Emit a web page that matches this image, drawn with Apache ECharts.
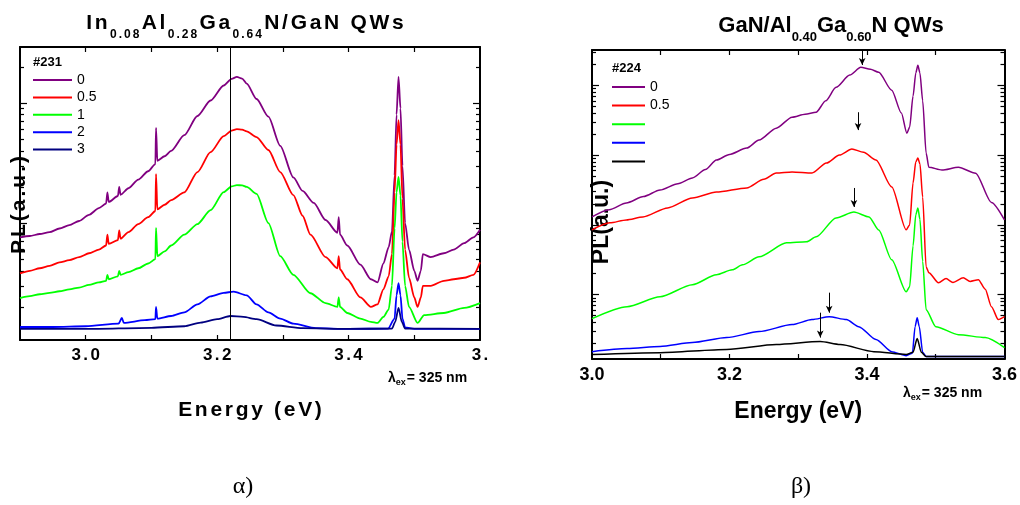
<!DOCTYPE html>
<html>
<head>
<meta charset="utf-8">
<script src="https://cdn.jsdelivr.net/npm/echarts@6/dist/echarts.min.js"></script>
<style>
  html, body { margin: 0; padding: 0; background: #fff; }
  #chart { width: 1020px; height: 505px; }
</style>
</head>
<body>
<div id="chart"></div>
<script>
// ---------- panel α : In0.08Al0.28Ga0.64N/GaN QWs, sample #231 ----------
const alphaRange = [2.9, 3.6];
const alphaYRange = [0.106, 29.3];
const alphaXTicks = [3.0, 3.1, 3.2, 3.3, 3.4, 3.5];
const alphaXLabelAt = [3.0, 3.2, 3.4, 3.6];
const alphaXLabels = ['3.0', '3.2', '3.4', '3.'];
const alphaYMajor = [1, 10];
const alphaYMinor = [0.2, 0.3, 0.4, 0.5, 0.6, 0.7, 0.8, 0.9, 2, 3, 4, 5, 6, 7, 8, 9, 20];
const alphaNames = ['0', '0.5', '1', '2', '3'];
const alphaColors = ['#800080', '#ff0000', '#00ff00', '#0000ff', '#000080'];
const alphaMarkE = 3.22;

const alphaS0 = [
  [2.900, 0.76], [2.915, 0.78], [2.930, 0.81], [2.945, 0.84], [2.960, 0.90], [2.975, 0.96],
  [2.990, 1.04], [3.005, 1.17], [3.020, 1.33],
  [3.031, 1.45], [3.033, 1.80], [3.035, 1.50], [3.049, 1.68], [3.051, 2.00], [3.053, 1.72],
  [3.065, 1.95], [3.080, 2.30], [3.095, 2.70], [3.106, 3.10], [3.107, 6.20], [3.109, 3.30],
  [3.120, 3.60], [3.130, 4.00], [3.150, 5.40],
  [3.170, 7.80], [3.190, 10.5], [3.210, 14.0], [3.222, 15.9], [3.230, 16.5], [3.238, 16.0],
  [3.245, 14.5], [3.260, 10.8],
  [3.278, 7.7], [3.296, 4.4], [3.316, 2.4], [3.330, 1.85], [3.347, 1.47], [3.365, 1.06], [3.383, 0.83],
  [3.385, 1.12], [3.387, 0.80], [3.398, 0.65], [3.418, 0.45], [3.434, 0.34], [3.444, 0.32],
  [3.453, 0.46], [3.461, 0.63], [3.466, 0.85], [3.470, 2.5], [3.473, 8.0], [3.476, 16.5],
  [3.479, 9.0], [3.482, 3.0], [3.486, 1.0], [3.492, 0.60], [3.500, 0.40], [3.505, 0.33],
  [3.510, 0.40], [3.513, 0.55], [3.525, 0.52], [3.545, 0.56], [3.560, 0.60], [3.576, 0.68],
  [3.590, 0.76], [3.600, 0.88]
];
const alphaS05 = [
  [2.900, 0.38], [2.915, 0.40], [2.930, 0.42], [2.945, 0.44], [2.960, 0.47], [2.975, 0.49],
  [2.990, 0.52], [3.005, 0.56], [3.020, 0.60],
  [3.031, 0.65], [3.033, 0.80], [3.035, 0.67], [3.049, 0.72], [3.051, 0.87], [3.053, 0.74],
  [3.065, 0.84], [3.080, 0.98], [3.095, 1.12], [3.106, 1.26], [3.107, 2.56], [3.109, 1.30],
  [3.120, 1.42], [3.130, 1.55], [3.150, 1.80],
  [3.170, 2.66], [3.190, 3.90], [3.210, 5.30], [3.222, 5.90], [3.230, 6.05], [3.238, 6.00],
  [3.245, 5.80], [3.260, 5.20],
  [3.278, 4.06], [3.296, 2.66], [3.316, 1.71], [3.330, 1.15], [3.342, 0.80], [3.365, 0.52], [3.383, 0.42],
  [3.385, 0.53], [3.387, 0.41], [3.398, 0.34], [3.418, 0.24], [3.434, 0.20], [3.444, 0.21],
  [3.453, 0.28], [3.461, 0.36], [3.466, 0.55], [3.470, 1.8], [3.473, 4.5], [3.476, 7.2],
  [3.479, 4.5], [3.482, 1.6], [3.486, 0.60], [3.492, 0.35], [3.500, 0.24], [3.505, 0.20],
  [3.510, 0.24], [3.513, 0.30], [3.525, 0.30], [3.545, 0.33], [3.560, 0.34], [3.576, 0.35],
  [3.590, 0.37], [3.600, 0.47]
];
const alphaS1 = [
  [2.900, 0.237], [2.915, 0.246], [2.930, 0.255], [2.945, 0.262], [2.960, 0.27], [2.975, 0.28],
  [2.990, 0.29], [3.005, 0.305], [3.020, 0.32],
  [3.031, 0.33], [3.033, 0.37], [3.035, 0.34], [3.049, 0.36], [3.051, 0.40], [3.053, 0.37],
  [3.065, 0.39], [3.080, 0.42], [3.095, 0.46], [3.106, 0.50], [3.107, 0.91], [3.109, 0.53],
  [3.120, 0.58], [3.130, 0.65], [3.150, 0.80],
  [3.170, 0.98], [3.190, 1.28], [3.210, 1.81], [3.222, 2.02], [3.230, 2.07], [3.238, 2.06],
  [3.245, 2.00], [3.260, 1.75],
  [3.278, 1.00], [3.296, 0.53], [3.316, 0.37], [3.342, 0.26], [3.365, 0.215], [3.383, 0.20],
  [3.385, 0.24], [3.387, 0.20], [3.398, 0.178], [3.418, 0.16], [3.434, 0.15], [3.444, 0.147],
  [3.453, 0.165], [3.461, 0.19], [3.466, 0.30], [3.470, 0.9], [3.473, 1.8], [3.476, 2.42],
  [3.479, 1.7], [3.482, 0.7], [3.486, 0.30], [3.492, 0.20], [3.505, 0.147], [3.515, 0.171],
  [3.545, 0.178], [3.576, 0.196], [3.600, 0.215]
];
const alphaS2 = [
  [2.900, 0.136], [2.950, 0.136], [3.000, 0.138], [3.050, 0.145], [3.055, 0.162], [3.058, 0.147],
  [3.090, 0.155], [3.106, 0.158], [3.107, 0.20], [3.109, 0.16], [3.130, 0.168], [3.150, 0.18],
  [3.170, 0.21], [3.190, 0.245], [3.210, 0.262], [3.225, 0.268], [3.245, 0.25], [3.260, 0.21],
  [3.278, 0.18], [3.296, 0.16], [3.316, 0.145], [3.350, 0.133], [3.400, 0.131], [3.460, 0.132],
  [3.470, 0.16], [3.473, 0.25], [3.476, 0.316], [3.479, 0.25], [3.482, 0.16], [3.486, 0.135],
  [3.500, 0.131], [3.600, 0.131]
];
const alphaS3 = [
  [2.900, 0.131], [3.000, 0.131], [3.100, 0.134], [3.150, 0.138], [3.175, 0.148], [3.200, 0.158],
  [3.220, 0.168], [3.240, 0.165], [3.260, 0.158], [3.290, 0.14], [3.330, 0.133], [3.400, 0.131],
  [3.466, 0.132], [3.471, 0.15], [3.476, 0.196], [3.481, 0.15], [3.486, 0.132], [3.600, 0.131]
];

// ---------- panel β : GaN/Al0.40Ga0.60N QWs, sample #224 ----------
const betaRange = [3.0, 3.6];
const betaYRange = [0.12, 3200];
const betaXTicks = [3.1, 3.2, 3.3, 3.4, 3.5];
const betaXLabelAt = [3.0, 3.2, 3.4, 3.6];
const betaXLabels = ['3.0', '3.2', '3.4', '3.6'];
const betaYMajor = [1, 10, 100, 1000];
const betaYMinor = [0.2, 0.3, 0.4, 0.5, 0.6, 0.7, 0.8, 0.9, 2, 3, 4, 5, 6, 7, 8, 9,
  20, 30, 40, 50, 60, 70, 80, 90, 200, 300, 400, 500, 600, 700, 800, 900, 2000, 3000];
const betaNames = ['β 0', 'β 0.5', 'β 1', 'β 2', 'β 3'];
const betaLegendText = ['0', '0.5', '\u00a0', '\u00a0', '\u00a0'];
const betaColors = ['#800080', '#ff0000', '#00ff00', '#0000ff', '#000000'];
// peak markers: [energy, from, to]
const betaArrows = [
  [3.393, 3150, 1950], [3.387, 411, 228], [3.381, 33.8, 18.1], [3.345, 1.07, 0.553], [3.332, 0.553, 0.243]
];

const betaS0 = [
  [3.000, 13.0], [3.025, 16.5], [3.050, 20.6], [3.075, 25.5], [3.099, 31.6], [3.125, 39],
  [3.146, 47], [3.165, 62], [3.181, 85], [3.200, 102], [3.225, 126], [3.243, 164], [3.268, 243],
  [3.291, 349], [3.310, 385], [3.326, 411], [3.340, 600], [3.355, 936], [3.375, 1400],
  [3.391, 1807], [3.405, 1700], [3.417, 1534], [3.436, 849], [3.450, 400], [3.458, 206],
  [3.462, 250], [3.467, 700], [3.471, 1500], [3.474, 1930], [3.477, 1500], [3.481, 600],
  [3.486, 107], [3.490, 67], [3.509, 61], [3.533, 67], [3.558, 55], [3.581, 21], [3.600, 11.8]
];
const betaS05 = [
  [3.000, 8.5], [3.026, 10.7], [3.050, 11.8], [3.074, 13.0], [3.110, 17.5], [3.146, 24.3],
  [3.181, 29.6], [3.225, 33.8], [3.250, 45], [3.268, 55.3], [3.291, 57.2], [3.320, 55.3],
  [3.341, 76.8], [3.360, 100], [3.378, 122], [3.395, 110], [3.413, 84.8], [3.436, 34.9],
  [3.457, 8.5], [3.462, 10], [3.467, 40], [3.471, 80], [3.474, 90.6], [3.477, 75], [3.481, 25],
  [3.486, 2.5], [3.490, 2.06], [3.504, 1.48], [3.515, 1.70], [3.525, 1.50], [3.540, 1.75],
  [3.550, 1.55], [3.562, 1.64], [3.572, 1.20], [3.581, 0.674], [3.591, 0.44], [3.600, 0.485]
];
const betaS1 = [
  [3.000, 0.454], [3.051, 0.674], [3.099, 0.936], [3.146, 1.39], [3.181, 1.93], [3.204, 2.27],
  [3.219, 2.68], [3.243, 3.49], [3.283, 5.53], [3.312, 5.72], [3.326, 6.74], [3.355, 12.6],
  [3.381, 15.3], [3.403, 13.0], [3.417, 8.48], [3.436, 3.16], [3.457, 1.10], [3.462, 1.3],
  [3.467, 5.0], [3.471, 14], [3.474, 17.5], [3.477, 12], [3.481, 3.0], [3.486, 0.61],
  [3.500, 0.349], [3.533, 0.268], [3.572, 0.243], [3.600, 0.175]
];
const betaS2 = [
  [3.000, 0.153], [3.051, 0.169], [3.099, 0.181], [3.146, 0.206], [3.196, 0.243], [3.243, 0.296],
  [3.291, 0.373], [3.320, 0.44], [3.345, 0.485], [3.370, 0.44], [3.388, 0.349], [3.413, 0.228],
  [3.436, 0.153], [3.457, 0.134], [3.466, 0.145], [3.470, 0.35], [3.473, 0.469], [3.476, 0.35],
  [3.481, 0.15], [3.486, 0.13], [3.600, 0.13]
];
const betaS3 = [
  [3.000, 0.139], [3.099, 0.148], [3.196, 0.164], [3.268, 0.193], [3.332, 0.213], [3.361, 0.193],
  [3.410, 0.153], [3.457, 0.139], [3.467, 0.15], [3.473, 0.235], [3.479, 0.15], [3.486, 0.13],
  [3.600, 0.13]
];

const FF = '"Liberation Sans", Arial, sans-serif';

// wraps every character in a rich-text token so the text gets letter spacing
function spaced(str, tag) {
  return str.split('').map(function (ch) { return '{' + tag + '|' + ch + '}'; }).join('');
}

function xAxisDef(grid, pos, range, ticks, labelAt, labels, labelFmt, richStyles, name, nameGap) {
  return {
    type: 'value', gridIndex: grid, position: pos, min: range[0], max: range[1],
    name: name || '', nameLocation: 'middle', nameGap: nameGap || 0,
    nameTextStyle: { rich: richStyles },
    axisLine: { show: true, onZero: false, lineStyle: { color: '#000', width: 2 } },
    axisTick: { show: true, inside: true, length: 5, customValues: ticks, lineStyle: { color: '#000', width: 1.2 } },
    axisLabel: {
      show: pos === 'bottom', customValues: labelAt, showMinLabel: true, showMaxLabel: true,
      margin: 7, rich: richStyles,
      formatter: function (v) {
        for (let i = 0; i < labelAt.length; i++) {
          if (Math.abs(labelAt[i] - v) < 1e-6) return labelFmt(labels[i]);
        }
        return '';
      }
    },
    splitLine: { show: false }
  };
}

function yAxisDef(grid, pos, range, ticks, len, withLine) {
  return {
    type: 'log', logBase: 10, gridIndex: grid, position: pos, min: range[0], max: range[1],
    axisLine: { show: withLine, onZero: false, lineStyle: { color: '#000', width: 2 } },
    axisTick: { show: true, inside: true, length: len, customValues: ticks, lineStyle: { color: '#000', width: 1.2 } },
    axisLabel: { show: false },
    splitLine: { show: false }
  };
}

function lineSeries(name, data, color, xi, yi, width) {
  return {
    type: 'line', name: name, data: data, xAxisIndex: xi, yAxisIndex: yi,
    showSymbol: false, symbol: 'none', clip: true,
    smooth: 0.25, smoothMonotone: 'x',
    lineStyle: { color: color, width: width }, itemStyle: { color: color },
    animation: false
  };
}

const alphaRich = {
  d: { fontFamily: FF, fontSize: 17, fontWeight: 'bold', color: '#000', padding: [0, 1.2, 0, 1.2] },
  dl: { fontFamily: FF, fontSize: 17, fontWeight: 'bold', color: '#000', padding: [0, 1.2, 0, 1.2] },
  n: { fontFamily: FF, fontSize: 21, fontWeight: 'bold', color: '#000', padding: [0, 1.35, 0, 1.35] }
};
const betaRich = {
  d: { fontFamily: FF, fontSize: 18, fontWeight: 'bold', color: '#000' },
  n: { fontFamily: FF, fontSize: 23, fontWeight: 'bold', color: '#000' }
};

const xAxes = [
  xAxisDef(0, 'bottom', alphaRange, alphaXTicks, alphaXLabelAt, alphaXLabels,
    function (s) { return s === '3.' ? '{dl|3}{dl|.}' : spaced(s, 'd'); }, alphaRich, spaced('Energy (eV)', 'n'), 60),
  xAxisDef(0, 'top', alphaRange, alphaXTicks, alphaXLabelAt, alphaXLabels, function (s) { return s; }, alphaRich),
  xAxisDef(1, 'bottom', betaRange, betaXTicks, betaXLabelAt, betaXLabels,
    function (s) { return '{d|' + s + '}'; }, betaRich, '{n|Energy (eV)}', 41),
  xAxisDef(1, 'top', betaRange, [3.1, 3.2, 3.3, 3.4, 3.5], betaXLabelAt, betaXLabels, function (s) { return s; }, betaRich)
];

const yAxes = [
  yAxisDef(0, 'left', alphaYRange, alphaYMajor, 7, true),
  yAxisDef(0, 'left', alphaYRange, alphaYMinor, 4, false),
  yAxisDef(0, 'right', alphaYRange, alphaYMajor, 7, true),
  yAxisDef(0, 'right', alphaYRange, alphaYMinor, 4, false),
  yAxisDef(1, 'left', betaYRange, betaYMajor, 7, true),
  yAxisDef(1, 'left', betaYRange, betaYMinor, 4, false),
  yAxisDef(1, 'right', betaYRange, betaYMajor, 7, true),
  yAxisDef(1, 'right', betaYRange, betaYMinor, 4, false)
];

const alphaData = [alphaS0, alphaS05, alphaS1, alphaS2, alphaS3];
const betaData = [betaS0, betaS05, betaS1, betaS2, betaS3];

const series = [];
alphaData.forEach(function (d, i) {
  series.push(lineSeries(alphaNames[i], d, alphaColors[i], 0, 0, 1.8));
});
betaData.forEach(function (d, i) {
  series.push(lineSeries(betaNames[i], d, betaColors[i], 2, 4, 1.5));
});

// thin vertical reference line in panel α
series[4].markLine = {
  silent: true, symbol: ['none', 'none'], animation: false, label: { show: false },
  lineStyle: { color: '#000', width: 1, type: 'solid' },
  data: [{ xAxis: alphaMarkE }]
};
// peak arrows in panel β
series[9].markLine = {
  silent: true, symbol: ['none', 'arrow'], symbolSize: [5, 7], animation: false,
  label: { show: false },
  lineStyle: { color: '#000', width: 1, type: 'solid' },
  data: betaArrows.map(function (a) {
    return [{ coord: [a[0], a[1]] }, { coord: [a[0], a[2]] }];
  })
};

const subTok = function (size) {
  return { fontFamily: FF, fontSize: size, fontWeight: 'bold', fill: '#000', verticalAlign: 'bottom', lineHeight: 36 };
};
const mainTok = function (size, pad) {
  return { fontFamily: FF, fontSize: size, fontWeight: 'bold', fill: '#000', lineHeight: 36, padding: [0, pad, 0, pad] };
};

const alphaTitle = spaced('In', 'm') + spaced('0.08', 's') + spaced('Al', 'm') + spaced('0.28', 's') +
  spaced('Ga', 'm') + spaced('0.64', 's') + spaced('N/GaN QWs', 'm');
const betaTitle = '{m|GaN/Al}{s|0.40}{m|Ga}{s|0.60}{m|N QWs}';

const lambdaRich = {
  l: { fontFamily: FF, fontSize: 14, fontWeight: 'bold', fill: '#000', lineHeight: 18 },
  e: { fontFamily: FF, fontSize: 9, fontWeight: 'bold', fill: '#000', verticalAlign: 'bottom', lineHeight: 18 },
  t: { fontFamily: FF, fontSize: 14, fontWeight: 'bold', fill: '#000', lineHeight: 18, padding: [0, 0, 0, 1] }
};

const graphics = [
  { type: 'text', x: 245, y: 5, style: { text: alphaTitle, align: 'center', verticalAlign: 'top',
    rich: { m: mainTok(21, 1.35), s: Object.assign(subTok(12), { padding: [0, 1, 0, 1] }) } } },
  { type: 'text', x: 831, y: 8, style: { text: betaTitle, align: 'center', verticalAlign: 'top',
    rich: { m: mainTok(22, 0), s: subTok(13) } } },
  { type: 'text', x: 33, y: 62, style: { text: '#231', font: 'bold 13px ' + FF, fill: '#000', align: 'left', verticalAlign: 'middle' } },
  { type: 'text', x: 612, y: 68, style: { text: '#224', font: 'bold 13px ' + FF, fill: '#000', align: 'left', verticalAlign: 'middle' } },
  { type: 'text', x: 19, y: 205, rotation: Math.PI / 2, style: { text: spaced('PL(a.u.)', 'p'), align: 'center', verticalAlign: 'middle',
    rich: { p: { fontFamily: FF, fontSize: 21, fontWeight: 'bold', fill: '#000', padding: [0, 1.5, 0, 1.5] } } } },
  { type: 'text', x: 602, y: 222, rotation: Math.PI / 2, style: { text: 'PL(a.u.)', font: 'bold 23px ' + FF, fill: '#000',
    align: 'center', verticalAlign: 'middle' } },
  { type: 'text', x: 388, y: 369, style: { text: '{l|λ}{e|ex}{t|= 325 nm}', align: 'left', verticalAlign: 'top', rich: lambdaRich } },
  { type: 'text', x: 903, y: 384, style: { text: '{l|λ}{e|ex}{t|= 325 nm}', align: 'left', verticalAlign: 'top', rich: lambdaRich } },
  { type: 'text', x: 243, y: 487, style: { text: 'α)', font: '24px "Liberation Serif", "Times New Roman", serif', fill: '#000',
    align: 'center', verticalAlign: 'middle' } },
  { type: 'text', x: 801, y: 487, style: { text: 'β)', font: '24px "Liberation Serif", "Times New Roman", serif', fill: '#000',
    align: 'center', verticalAlign: 'middle' } }
];

const chart = echarts.init(document.getElementById('chart'), null, { renderer: 'canvas' });
chart.setOption({
  backgroundColor: '#fff',
  animation: false,
  grid: [
    { left: 20, top: 47, width: 460, height: 293, containLabel: false },
    { left: 592, top: 50, width: 414, height: 309, containLabel: false }
  ],
  xAxis: xAxes,
  yAxis: yAxes,
  legend: [
    {
      data: alphaNames, orient: 'vertical', left: 28, top: 68, itemWidth: 39, itemHeight: 2, itemGap: 3.4,
      icon: 'rect', selectedMode: false, textStyle: { fontFamily: FF, fontSize: 14, color: '#000' }
    },
    {
      data: betaNames, orient: 'vertical', left: 607, top: 75, itemWidth: 33, itemHeight: 2, itemGap: 4.6,
      icon: 'rect', selectedMode: false, textStyle: { fontFamily: FF, fontSize: 14, color: '#000' },
      formatter: function (name) { return betaLegendText[betaNames.indexOf(name)]; }
    }
  ],
  series: series,
  graphic: graphics
});
</script>
</body>
</html>
